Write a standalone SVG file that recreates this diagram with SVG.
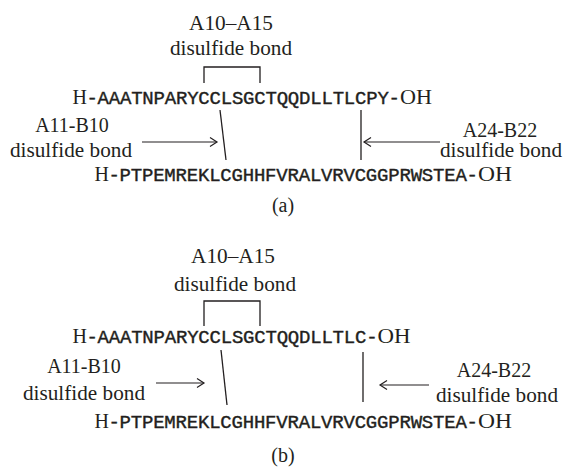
<svg xmlns="http://www.w3.org/2000/svg" width="565" height="472" viewBox="0 0 565 472">
<style>
.ser{font-family:"Liberation Serif","Times New Roman",serif;font-size:20px;fill:#231f20}
.mono{font-family:"Liberation Mono","DejaVu Sans Mono",monospace;font-size:19px;fill:#231f20;stroke:#231f20;stroke-width:0.4}
.mid{text-anchor:middle}
.end{text-anchor:end}
.ln{fill:none;stroke:#231f20;stroke-width:1.3}
.arr{fill:none;stroke:#231f20;stroke-width:1.2;marker-end:url(#ah)}
</style>
<defs>
<marker id="ah" markerUnits="userSpaceOnUse" markerWidth="12" markerHeight="12" refX="10" refY="6" orient="auto">
<path d="M3,1.5 L10,6 L3,10.5" fill="none" stroke="#231f20" stroke-width="1.2"/>
</marker>
</defs>
<rect width="565" height="472" fill="#ffffff"/>

<!-- Panel (a) -->
<g id="a-label-a10a15">
<text class="ser mid" x="231" y="30" textLength="84" lengthAdjust="spacingAndGlyphs">A10–A15</text>
<text class="ser mid" x="231" y="55" textLength="122" lengthAdjust="spacingAndGlyphs">disulfide bond</text>
</g>
<g id="a-chainA">
<text class="ser end" x="87" y="104">H</text>
<text class="mono" x="86.4" y="104" textLength="313.6" lengthAdjust="spacing">-AAATNPARYCCLSGCTQQDLLTLCPY-</text>
<text class="ser" x="400" y="104" textLength="32" lengthAdjust="spacingAndGlyphs">OH</text>
</g>
<g id="a-label-a11b10">
<text class="ser mid" x="72" y="132">A11-B10</text>
<text class="ser mid" x="71" y="157" textLength="122" lengthAdjust="spacingAndGlyphs">disulfide bond</text>
</g>
<g id="a-label-a24b22">
<text class="ser mid" x="500" y="137">A24-B22</text>
<text class="ser mid" x="501" y="157" textLength="122" lengthAdjust="spacingAndGlyphs">disulfide bond</text>
</g>
<g id="a-chainB">
<text class="ser end" x="109" y="181">H</text>
<text class="mono" x="108.4" y="181" textLength="369.6" lengthAdjust="spacing">-PTPEMREKLCGHHFVRALVRVCGGPRWSTEA-</text>
<text class="ser" x="478" y="181" textLength="34" lengthAdjust="spacingAndGlyphs">OH</text>
</g>
<g id="a-caption">
<text class="ser mid" x="283" y="212">(a)</text>
</g>

<!-- Panel (b) -->
<g id="b-label-a10a15">
<text class="ser mid" x="233" y="263" textLength="84" lengthAdjust="spacingAndGlyphs">A10–A15</text>
<text class="ser mid" x="235" y="291" textLength="122" lengthAdjust="spacingAndGlyphs">disulfide bond</text>
</g>
<g id="b-chainA">
<text class="ser end" x="87" y="343">H</text>
<text class="mono" x="86.4" y="343" textLength="291.2" lengthAdjust="spacing">-AAATNPARYCCLSGCTQQDLLTLC-</text>
<text class="ser" x="377.6" y="343" textLength="33" lengthAdjust="spacingAndGlyphs">OH</text>
</g>
<g id="b-label-a11b10">
<text class="ser mid" x="84" y="373">A11-B10</text>
<text class="ser mid" x="84" y="400" textLength="122" lengthAdjust="spacingAndGlyphs">disulfide bond</text>
</g>
<g id="b-label-a24b22">
<text class="ser mid" x="494" y="377">A24-B22</text>
<text class="ser mid" x="497" y="402" textLength="122" lengthAdjust="spacingAndGlyphs">disulfide bond</text>
</g>
<g id="b-chainB">
<text class="ser end" x="109" y="428">H</text>
<text class="mono" x="108.4" y="428" textLength="369.6" lengthAdjust="spacing">-PTPEMREKLCGHHFVRALVRVCGGPRWSTEA-</text>
<text class="ser" x="478" y="428" textLength="34" lengthAdjust="spacingAndGlyphs">OH</text>
</g>
<g id="b-caption">
<text class="ser mid" x="283" y="462">(b)</text>
</g>

<g id="connectors">
<path class="ln" d="M204,83 V67 H260 V83"/>
<path class="ln" d="M220,110 L226,160"/>
<path class="ln" d="M361,110 V160"/>
<path class="arr" d="M142,142 H217"/>
<path class="arr" d="M440,142 H364"/>

<path class="ln" d="M204,326 V301 H260 V326"/>
<path class="ln" d="M221,350 L227,405"/>
<path class="ln" d="M363,352 V402"/>
<path class="arr" d="M156,383 H204"/>
<path class="arr" d="M429,385 H380"/>
</g>
</svg>
